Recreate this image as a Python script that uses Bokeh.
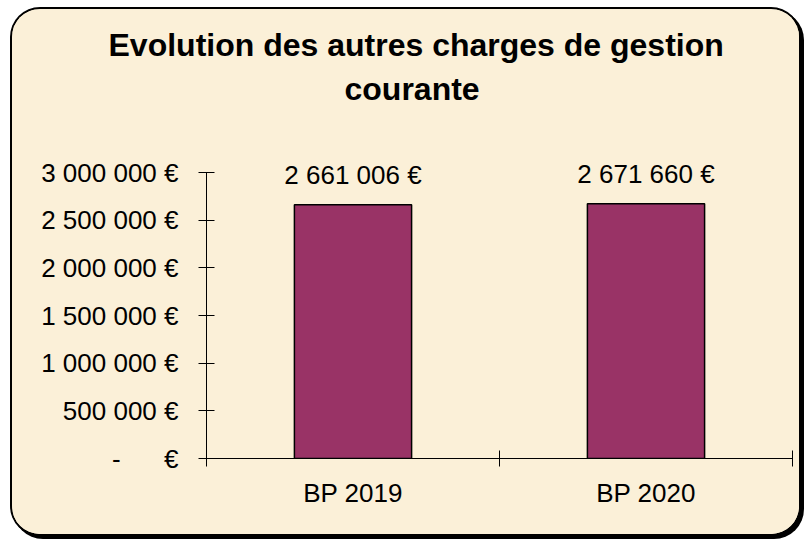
from bokeh.plotting import figure
from bokeh.models import FixedTicker, Range1d, ColumnDataSource, Title, LabelSet
from bokeh.core.properties import value
from bokeh.embed import file_html
from bokeh.resources import INLINE

# ---- data ----
categories = ["BP 2019", "BP 2020"]
amounts = [2661006, 2671660]
y_ticks = [0, 500000, 1000000, 1500000, 2000000, 2500000, 3000000]
y_tick_labels = ["-\u00a0\u00a0\u00a0\u00a0\u00a0 €", "500 000 €", "1 000 000 €", "1 500 000 €",
                 "2 000 000 €", "2 500 000 €", "3 000 000 €"]
title_lines = ["Evolution des autres charges de gestion", "courante"]

FONT = "Liberation Sans"
BG = "#FBF0D8"
BAR = "#993366"

def fmt(v):
    return "{:,}".format(v).replace(",", " ") + " €"

# layout (canvas pixels)
W, H = 787, 525
FRAME_TOP, AXIS_TOP, FRAME_BOTTOM = 99, 163, 449
y_max = y_ticks[-1]
y_end = y_max * (FRAME_BOTTOM - FRAME_TOP) / (FRAME_BOTTOM - AXIS_TOP)

xs = [i + 0.5 for i in range(len(categories))]
src = ColumnDataSource(dict(x=xs, top=amounts, lab=[fmt(v) for v in amounts]))

p = figure(width=W, height=H, output_backend="svg", toolbar_location=None,
           x_range=Range1d(0, len(categories)), y_range=Range1d(0, y_end),
           min_border_left=194, min_border_right=7, min_border_top=FRAME_TOP,
           min_border_bottom=H - FRAME_BOTTOM,
           background_fill_color=BG, border_fill_color=BG, outline_line_color=None)
p.grid.visible = False
p.styles = {
    "margin-left": "12px",
    "margin-top": "9px",
    "border-radius": "28px",
    "overflow": "hidden",
    "background-color": BG,
    "box-shadow": "0 0 0 2px black, 3px 3px 0 2px black",
}

p.vbar(x="x", top="top", width=0.4, source=src, fill_color=BAR, line_color="black", line_width=1.5)
p.add_layout(LabelSet(x="x", y="top", text="lab", source=src, text_align="center",
                      text_baseline="alphabetic", y_offset=21, text_font=value(FONT),
                      text_font_size=value("26px"), text_color="black"))

# axes
ya = p.yaxis[0]
ya.ticker = FixedTicker(ticks=y_ticks)
ya.bounds = (0, y_max)
ya.major_label_overrides = {t: l for t, l in zip(y_ticks, y_tick_labels)}
ya.major_tick_in = 8
ya.major_tick_out = 8
ya.minor_tick_line_color = None
ya.major_label_standoff = 20
ya.major_label_text_font = FONT
ya.major_label_text_font_size = "26px"
ya.major_label_text_color = "black"
ya.axis_line_color = "black"
ya.major_tick_line_color = "black"

xa = p.xaxis[0]
xa.ticker = FixedTicker(ticks=xs, minor_ticks=list(range(len(categories) + 1)))
xa.major_label_overrides = {x: c for x, c in zip(xs, categories)}
xa.major_tick_in = 0
xa.major_tick_out = 0
xa.minor_tick_in = 8
xa.minor_tick_out = 8
xa.minor_tick_line_color = "black"
xa.major_label_standoff = 11
xa.major_label_text_font = FONT
xa.major_label_text_font_size = "26px"
xa.major_label_text_color = "black"
xa.axis_line_color = "black"

# title (two lines; later-added is placed further from the frame)
for t, so, off in zip(reversed(title_lines), [4, 7], [138, -98]):
    p.add_layout(Title(text=t, align="left", offset=off, standoff=so, text_font=FONT,
                       text_font_size="32px", text_font_style="bold", text_color="black"), "above")

open("out.html", "w").write(file_html(p, INLINE))
